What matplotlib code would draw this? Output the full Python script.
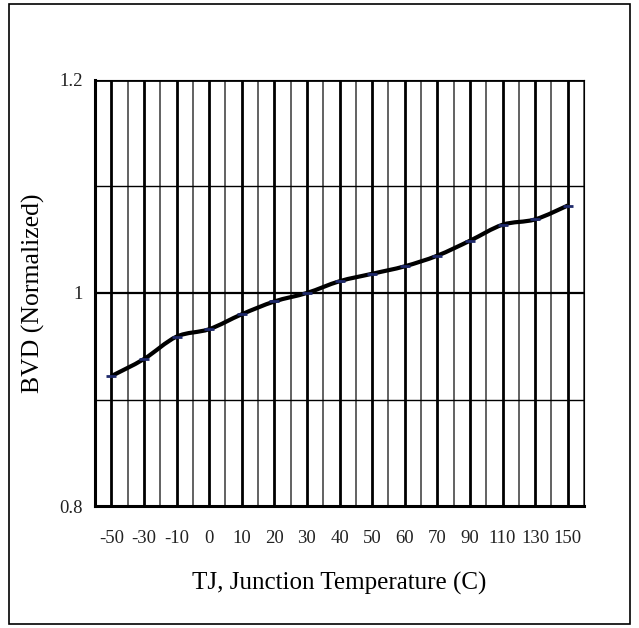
import matplotlib
matplotlib.use("Agg")
import matplotlib.pyplot as plt
from matplotlib.path import Path
from matplotlib.patches import PathPatch, Rectangle
import numpy as np

temps = ["-50", "-30", "-10", "0", "10", "20", "30", "40", "50", "60", "70", "90", "110", "130", "150"]
bvd = [0.922, 0.938, 0.959, 0.966, 0.980, 0.992, 1.000, 1.011, 1.018, 1.025, 1.035, 1.049, 1.064, 1.069, 1.082]

plt.rcParams["font.family"] = ["Liberation Serif", "DejaVu Serif"]

fig = plt.figure(figsize=(6.39, 6.28), dpi=100)
ax = fig.add_axes([0.1487, 0.194, 0.7653, 0.679])

# outer frame around the whole chart
fig.patches.append(Rectangle((0.014, 0.006), 0.972, 0.988, transform=fig.transFigure,
                             fill=False, edgecolor="black", linewidth=1.2))

x = np.arange(len(temps))

# gridlines: thick at categories, thin at category boundaries
for xi in x:
    ax.axvline(xi, color="black", linewidth=2.0, zorder=1)
for xb in np.arange(len(temps) + 1) - 0.5:
    ax.axvline(xb, color="#555555", linewidth=1.3, zorder=1)
for yv, lw in [(0.9, 1.0), (1.0, 1.6), (1.1, 1.0), (1.2, 2.0)]:
    ax.axhline(yv, color="black", linewidth=lw, zorder=1)

# smoothed line (Catmull-Rom style Bezier through the points)
pts = np.column_stack([x, bvd]).astype(float)
verts = [tuple(pts[0])]
codes = [Path.MOVETO]
for i in range(len(pts) - 1):
    p0 = pts[i - 1] if i > 0 else pts[i]
    p1 = pts[i]
    p2 = pts[i + 1]
    p3 = pts[i + 2] if i + 2 < len(pts) else pts[i + 1]
    c1 = p1 + (p2 - p0) / 6.0
    c2 = p2 - (p3 - p1) / 6.0
    verts += [tuple(c1), tuple(c2), tuple(p2)]
    codes += [Path.CURVE4] * 3
ax.add_patch(PathPatch(Path(verts, codes), fill=False, edgecolor="black",
                       linewidth=3.0, zorder=3))
ax.plot(x, bvd, linestyle="none", marker="_", markersize=7, markeredgewidth=2,
        color="#1f2a6b", zorder=4)

ax.set_xlim(-0.5, len(temps) - 0.5)
ax.set_ylim(0.8, 1.2)
ax.set_xticks(x)
ax.set_xticklabels(temps)
ax.set_yticks([0.8, 1.0, 1.2])
ax.set_yticklabels(["0.8", "1", "1.2"])
ax.tick_params(axis="both", length=0, labelsize=13.5, colors="#222222")
ax.tick_params(axis="x", pad=17)
ax.tick_params(axis="y", pad=9)

for side in ["top", "right"]:
    ax.spines[side].set_linewidth(0.8)
for side in ["left", "bottom"]:
    ax.spines[side].set_linewidth(2.2)

ax.set_xlabel("TJ, Junction Temperature (C)", fontsize=18, labelpad=18)
ax.set_ylabel("BVD (Normalized)", fontsize=18.5, labelpad=10)

plt.savefig("out.png", dpi=100)
print("Saved figure: out.png")
